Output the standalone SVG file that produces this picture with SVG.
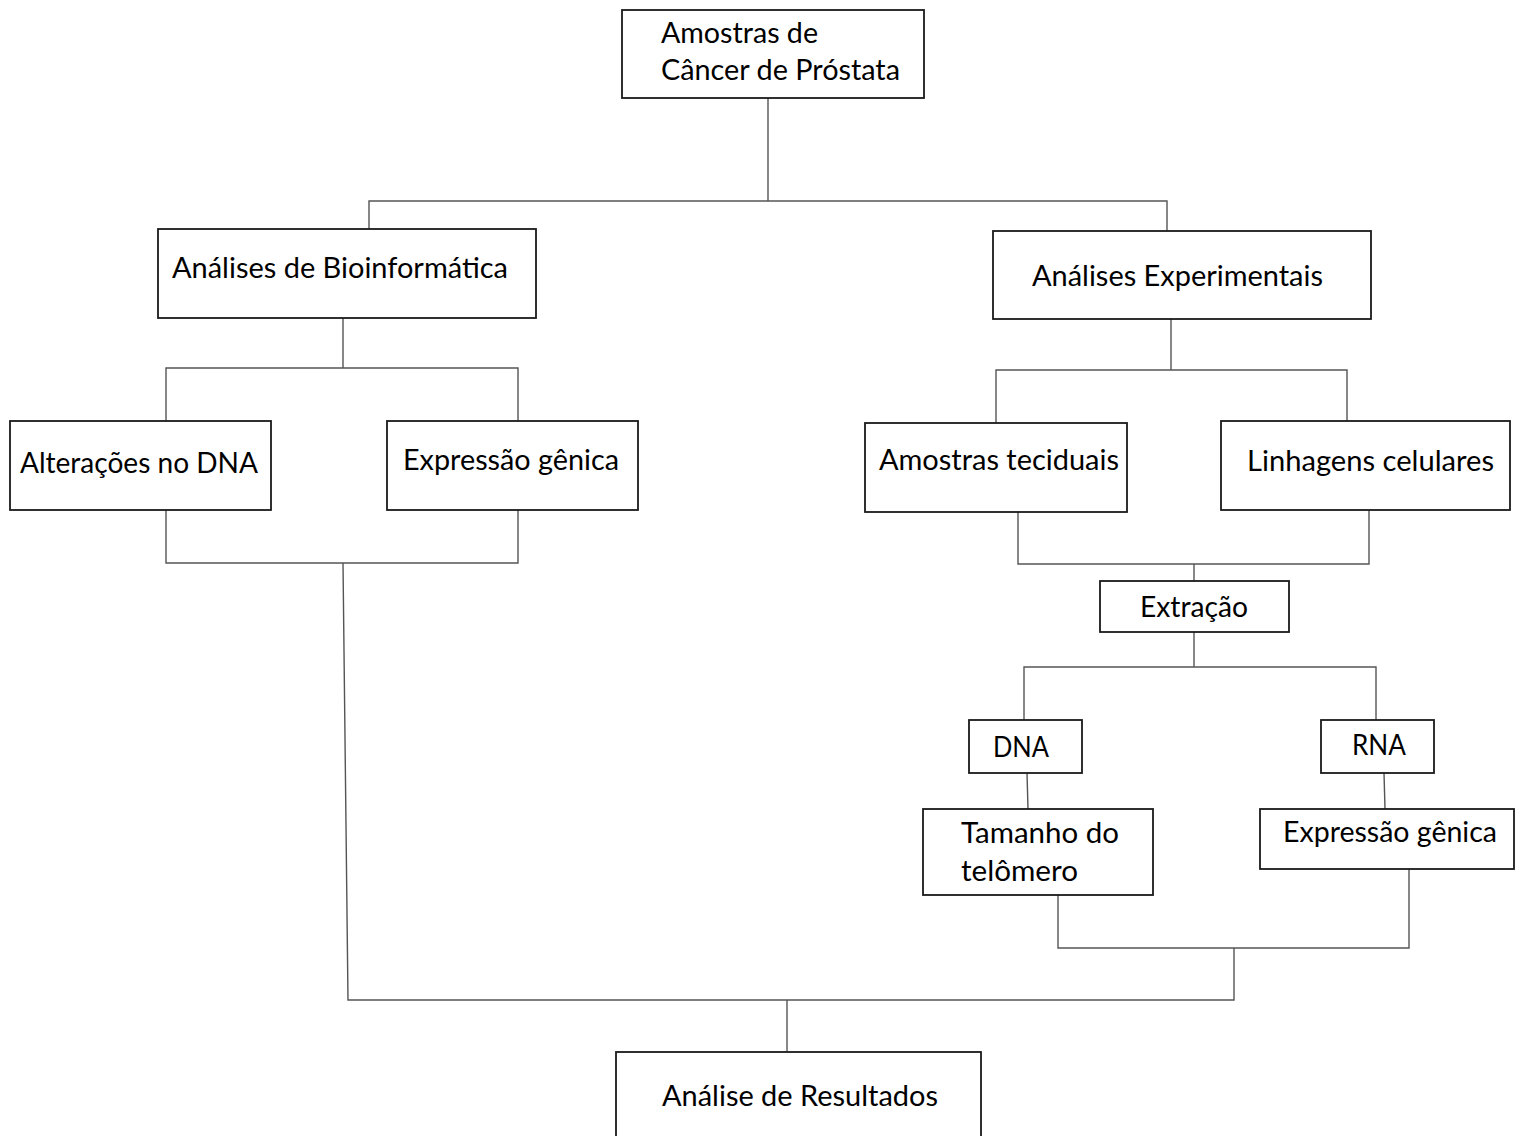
<svg xmlns="http://www.w3.org/2000/svg" width="1516" height="1136" viewBox="0 0 1516 1136">
<style>
.box{fill:#fff;stroke:#1a1a1a;stroke-width:1.8}
.t{font-family:Lato,"Open Sans","Liberation Sans",sans-serif;font-size:29px;fill:#000}
.c{fill:none;stroke:#555;stroke-width:1.4}
</style>
<rect width="1516" height="1136" fill="#fff"/>
<g id="connectors">
<polyline class="c" points="768,98 768,201"/>
<polyline class="c" points="369,229 369,201 1167,201 1167,231"/>
<polyline class="c" points="343,318 343,368"/>
<polyline class="c" points="166,421 166,368 518,368 518,421"/>
<polyline class="c" points="166,510 166,563 518,563 518,510"/>
<polyline class="c" points="343,563 348,1000 1234,1000 1234,948"/>
<polyline class="c" points="1171,319 1171,370"/>
<polyline class="c" points="996,423 996,370 1347,370 1347,421"/>
<polyline class="c" points="1018,512 1018,564 1369,564 1369,510"/>
<polyline class="c" points="1194,564 1194,581"/>
<polyline class="c" points="1194,632 1194,667"/>
<polyline class="c" points="1024,720 1024,667 1376,667 1376,720"/>
<polyline class="c" points="1027,773 1028,809"/>
<polyline class="c" points="1384,773 1385,809"/>
<polyline class="c" points="1058,895 1058,948 1409,948 1409,869"/>
<polyline class="c" points="787,1000 787,1052"/>
</g>
<g id="n-amostras">
<rect class="box" x="622" y="10" width="302" height="88"/>
<text class="t" x="661" y="43" textLength="157" lengthAdjust="spacingAndGlyphs">Amostras de</text>
<text class="t" x="661" y="80" textLength="239" lengthAdjust="spacingAndGlyphs">Câncer de Próstata</text>
</g>
<g id="n-bioinfo">
<rect class="box" x="158" y="229" width="378" height="89"/>
<text class="t" x="172" y="278" textLength="336" lengthAdjust="spacingAndGlyphs">Análises de Bioinformática</text>
</g>
<g id="n-experimentais">
<rect class="box" x="993" y="231" width="378" height="88"/>
<text class="t" x="1032" y="286" textLength="291" lengthAdjust="spacingAndGlyphs">Análises Experimentais</text>
</g>
<g id="n-alteracoes">
<rect class="box" x="10" y="421" width="261" height="89"/>
<text class="t" x="20" y="473" textLength="238" lengthAdjust="spacingAndGlyphs">Alterações no DNA</text>
</g>
<g id="n-expressao1">
<rect class="box" x="387" y="421" width="251" height="89"/>
<text class="t" x="403" y="470" textLength="216" lengthAdjust="spacingAndGlyphs">Expressão gênica</text>
</g>
<g id="n-teciduais">
<rect class="box" x="865" y="423" width="262" height="89"/>
<text class="t" x="879" y="470" textLength="240" lengthAdjust="spacingAndGlyphs">Amostras teciduais</text>
</g>
<g id="n-linhagens">
<rect class="box" x="1221" y="421" width="289" height="89"/>
<text class="t" x="1247" y="471" textLength="247" lengthAdjust="spacingAndGlyphs">Linhagens celulares</text>
</g>
<g id="n-extracao">
<rect class="box" x="1100" y="581" width="189" height="51"/>
<text class="t" x="1140" y="617" textLength="108" lengthAdjust="spacingAndGlyphs">Extração</text>
</g>
<g id="n-dna">
<rect class="box" x="969" y="720" width="113" height="53"/>
<text class="t" x="993" y="757" textLength="56" lengthAdjust="spacingAndGlyphs">DNA</text>
</g>
<g id="n-rna">
<rect class="box" x="1321" y="720" width="113" height="53"/>
<text class="t" x="1352" y="755" textLength="54" lengthAdjust="spacingAndGlyphs">RNA</text>
</g>
<g id="n-tamanho">
<rect class="box" x="923" y="809" width="230" height="86"/>
<text class="t" x="961" y="843" textLength="158" lengthAdjust="spacingAndGlyphs">Tamanho do</text>
<text class="t" x="961" y="881" textLength="117" lengthAdjust="spacingAndGlyphs">telômero</text>
</g>
<g id="n-expressao2">
<rect class="box" x="1260" y="809" width="254" height="60"/>
<text class="t" x="1283" y="842" textLength="214" lengthAdjust="spacingAndGlyphs">Expressão gênica</text>
</g>
<g id="n-resultados">
<rect class="box" x="616" y="1052" width="365" height="100"/>
<text class="t" x="662" y="1106" textLength="276" lengthAdjust="spacingAndGlyphs">Análise de Resultados</text>
</g>
</svg>
